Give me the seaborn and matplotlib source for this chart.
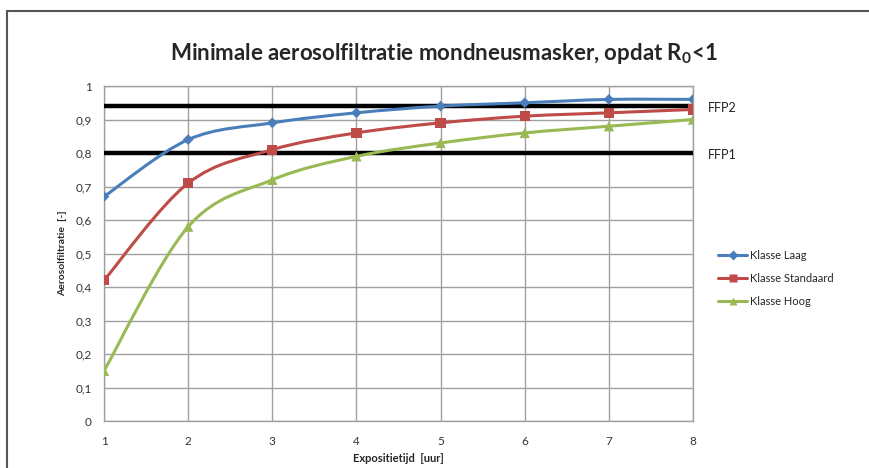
import numpy as np
import pandas as pd
import matplotlib
matplotlib.use("Agg")
import matplotlib.pyplot as plt
from matplotlib.path import Path
from matplotlib.patches import PathPatch
from matplotlib.lines import Line2D
import seaborn as sns

# ---- data ----
uren = [1, 2, 3, 4, 5, 6, 7, 8]
klasse_laag = [0.67, 0.84, 0.89, 0.92, 0.94, 0.95, 0.96, 0.96]
klasse_standaard = [0.42, 0.71, 0.81, 0.86, 0.89, 0.91, 0.92, 0.93]
klasse_hoog = [0.15, 0.58, 0.72, 0.79, 0.83, 0.86, 0.88, 0.90]
ffp_niveaus = {"FFP2": 0.94, "FFP1": 0.80}

series = {
    "Klasse Laag": klasse_laag,
    "Klasse Standaard": klasse_standaard,
    "Klasse Hoog": klasse_hoog,
}
kleuren = {"Klasse Laag": "#4A7EBB", "Klasse Standaard": "#BE4B48", "Klasse Hoog": "#98B954"}
markers = {"Klasse Laag": "D", "Klasse Standaard": "s", "Klasse Hoog": "^"}
msizes = {"Klasse Laag": 30, "Klasse Standaard": 55, "Klasse Hoog": 55}

df = pd.concat(
    [pd.DataFrame({"uur": uren, "filtratie": v, "klasse": k}) for k, v in series.items()],
    ignore_index=True,
)

sns.set_style("white")
plt.rcParams["font.family"] = ["Lato", "DejaVu Sans"]
plt.rcParams["mathtext.fontset"] = "custom"
plt.rcParams["mathtext.rm"] = "Lato:bold"
plt.rcParams["mathtext.it"] = "Lato:bold"


def smooth_path(x, y):
    """Bezier path through the data points (Excel-like smoothed line)"""
    pts = np.column_stack([x, y]).astype(float)
    n = len(pts)
    verts = [pts[0]]
    codes = [Path.MOVETO]
    for i in range(n - 1):
        p0 = pts[max(i - 1, 0)]
        p1 = pts[i]
        p2 = pts[i + 1]
        p3 = pts[min(i + 2, n - 1)]
        c1 = p1 + (p2 - p0) / 6.0
        c2 = p2 - (p3 - p1) / 6.0
        verts += [c1, c2, p2]
        codes += [Path.CURVE4] * 3
    return Path(verts, codes)


fig = plt.figure(figsize=(8.69, 4.68), dpi=100)
ax = fig.add_axes([0.1197, 0.1004, 0.6778, 0.7158])

# FFP reference lines
for naam, niveau in ffp_niveaus.items():
    ax.plot([uren[0], uren[-1]], [niveau, niveau], color="black", lw=3.2, zorder=3)
    ax.text(uren[-1] + 0.18, niveau - 0.005, naam, va="center", ha="left",
            fontsize=9, color="#222222")

# smooth curves
for naam, vals in series.items():
    ax.add_patch(PathPatch(smooth_path(uren, vals), facecolor="none",
                           edgecolor=kleuren[naam], lw=2.2, zorder=4))

sns.scatterplot(data=df, x="uur", y="filtratie", hue="klasse", style="klasse",
                palette=kleuren, markers=markers, size="klasse", sizes=msizes,
                edgecolor="none", ax=ax, legend=False, zorder=5)

ax.set_xlim(1, 8)
ax.set_ylim(0, 1)
ax.set_xticks(uren)
ax.set_xticks(np.arange(1, 8.01, 0.2), minor=True)
ax.set_yticks(np.arange(0, 1.01, 0.1))
ax.set_yticklabels(["0" if v == 0 else ("1" if v == 1 else f"{v:.1f}".replace(".", ","))
                    for v in np.arange(0, 1.01, 0.1)])
ax.grid(True, which="major", color="#a0a0a0", lw=1)
for s in ax.spines.values():
    s.set_color("#a0a0a0")
    s.set_linewidth(1)
ax.tick_params(axis="both", which="both", direction="out", color="#a0a0a0",
               labelsize=8.5, labelcolor="#333333")
ax.tick_params(axis="x", which="major", length=5, pad=6)
ax.tick_params(axis="x", which="minor", length=3)
ax.tick_params(axis="y", which="major", length=5, pad=4)

ax.set_xlabel("Expositietijd  [uur]", fontsize=8, fontweight="bold", labelpad=4)
ax.set_ylabel("Aerosolfiltratie  [-]", fontsize=7.5, fontweight="bold", labelpad=6)

fig.text(0.511, 0.885, r"Minimale aerosolfiltratie mondneusmasker, opdat R$_0$<1",
         ha="center", va="center", fontsize=16, fontweight="bold")

# legend
handles = [Line2D([0], [0], color=kleuren[n], lw=2.2, marker=markers[n],
                  markersize=5 if n == "Klasse Laag" else 6, markeredgecolor="none")
           for n in series]
fig.legend(handles, list(series.keys()), loc="center left",
           bbox_to_anchor=(0.815, 0.405), frameon=False, fontsize=8,
           handlelength=2.6, labelspacing=1.05, handletextpad=0.3)

# chart frame (top and left edge visible)
fig.add_artist(Line2D([0.008, 1.0], [0.977, 0.977], color="#555555", lw=1.5))
fig.add_artist(Line2D([0.008, 0.008], [0.0, 0.977], color="#555555", lw=1.5))

fig.savefig("out.png", dpi=100)
plt.close(fig)
